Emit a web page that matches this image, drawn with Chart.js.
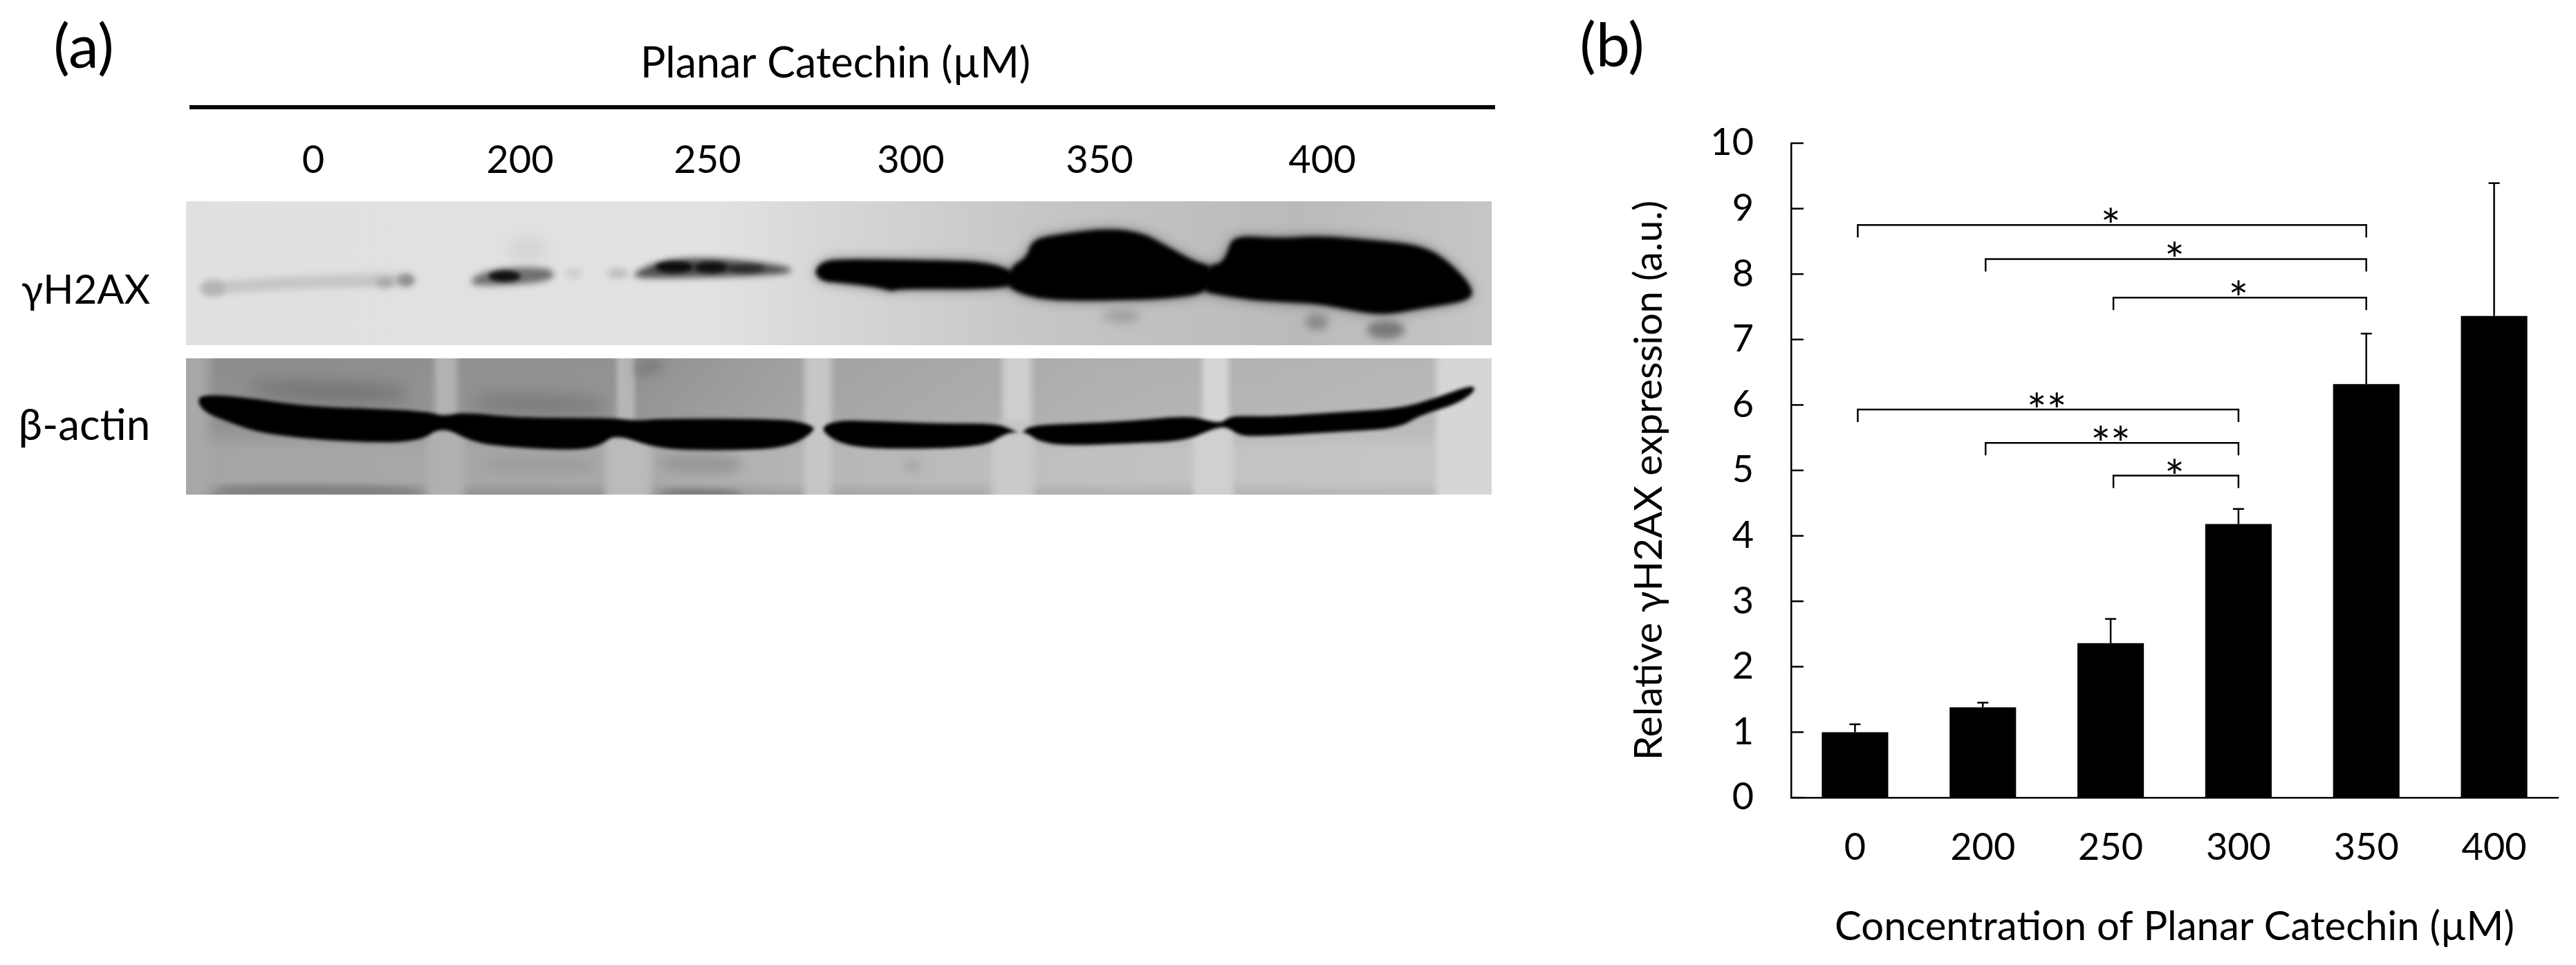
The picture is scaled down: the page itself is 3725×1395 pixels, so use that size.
<!DOCTYPE html>
<html>
<head>
<meta charset="utf-8">
<title>Planar Catechin</title>
<script src="https://cdn.jsdelivr.net/npm/chart.js@4"></script>
<style>
  html, body { margin: 0; padding: 0; background: #fff; }
  canvas { display: block; }
</style>
</head>
<body>
<canvas id="chart" width="3725" height="1395" style="width:3725px;height:1395px"></canvas>
<script>
const concentrations = ["0", "200", "250", "300", "350", "400"];
const meanExpression = [1.0, 1.38, 2.36, 4.18, 6.32, 7.36];
const errorTops = [1.12, 1.45, 2.73, 4.41, 7.09, 9.39];

// significance brackets: first lane, last lane, height, stars
const bracketFrom = [0, 1, 2, 0, 1, 2];
const bracketTo = [4, 4, 4, 3, 3, 3];
const bracketHeight = [8.75, 8.23, 7.64, 5.93, 5.42, 4.92];
const bracketStars = ["*", "*", "*", "**", "**", "*"];

const laneLabelCenters = [453, 752, 1023, 1317, 1590, 1912];

const FONT = 'Lato, "Open Sans", sans-serif';

// blot outlines were traced on two crops (1.65 x 3 times the page size),
// the left one starts at page x 260, the right one at 1210, both at y 280
const LEFT = 260, RIGHT = 1210;
const px = (origin, x) => origin + x / 1.65;
const py = (y) => 280 + y / 3;

// closed shape with rounded corners, the blur does the rest
function blob(ctx, origin, pts, color, blur) {
    const p = pts.map((q) => [px(origin, q[0]), py(q[1])]);
    ctx.filter = `blur(${blur}px)`;
    ctx.fillStyle = color;
    ctx.beginPath();
    const last = p[p.length - 1];
    ctx.moveTo((last[0] + p[0][0]) / 2, (last[1] + p[0][1]) / 2);
    p.forEach((q, i) => {
        const n = p[(i + 1) % p.length];
        ctx.quadraticCurveTo(q[0], q[1], (q[0] + n[0]) / 2, (q[1] + n[1]) / 2);
    });
    ctx.closePath();
    ctx.fill();
    ctx.filter = "none";
}

function spot(ctx, origin, x, y, rx, ry, color, blur) {
    ctx.filter = `blur(${blur}px)`;
    ctx.fillStyle = color;
    ctx.beginPath();
    ctx.ellipse(px(origin, x), py(y), rx / 1.65, ry / 3, 0, 0, Math.PI * 2);
    ctx.fill();
    ctx.filter = "none";
}

// straight pale strip between two lanes
function strip(ctx, origin, x0, x1, y0, y1, color, blur) {
    ctx.filter = `blur(${blur}px)`;
    ctx.fillStyle = color;
    ctx.fillRect(px(origin, x0), py(y0), (x1 - x0) / 1.65, (y1 - y0) / 3);
    ctx.filter = "none";
}

function drawGammaBlot(ctx) {
    const x = 269, y = 291, w = 1888, h = 208;
    ctx.save();
    ctx.beginPath();
    ctx.rect(x, y, w, h);
    ctx.clip();
    const bg = ctx.createLinearGradient(x, 0, x + w, 0);
    bg.addColorStop(0, "#e0e0e0");
    bg.addColorStop(0.4, "#e2e2e2");
    bg.addColorStop(0.5, "#d6d6d6");
    bg.addColorStop(0.65, "#c6c6c6");
    bg.addColorStop(0.85, "#bababa");
    bg.addColorStop(1, "#c6c6c6");
    ctx.fillStyle = bg;
    ctx.fillRect(x, y, w, h);

    // lane 0
    blob(ctx, LEFT, [[50, 385], [300, 355], [560, 340], [560, 405], [300, 410], [50, 440]], "#c6c6c6", 5);
    spot(ctx, LEFT, 80, 410, 30, 35, "#b4b4b4", 5);
    spot(ctx, LEFT, 540, 375, 20, 28, "#8e8e8e", 4);
    spot(ctx, LEFT, 490, 385, 22, 22, "#aaaaaa", 4);
    // lane 200
    spot(ctx, LEFT, 830, 240, 50, 50, "#d4d4d4", 10);
    blob(ctx, LEFT, [[680, 395], [730, 325], [890, 315], [895, 380], [760, 400]], "#707070", 5);
    spot(ctx, LEFT, 775, 358, 38, 24, "#111", 3);
    // lane 250
    spot(ctx, LEFT, 940, 345, 20, 20, "#cccccc", 5);
    spot(ctx, LEFT, 1045, 345, 25, 22, "#bdbdbd", 5);
    blob(ctx, LEFT, [[1075, 350], [1150, 285], [1280, 275], [1460, 315], [1460, 350], [1280, 362], [1100, 368]], "#505050", 5);
    spot(ctx, LEFT, 1180, 318, 45, 24, "#0c0c0c", 3);
    spot(ctx, LEFT, 1268, 320, 40, 24, "#111", 3);
    spot(ctx, LEFT, 1350, 325, 45, 16, "#2a2a2a", 3);

    const lane300 = [[-55, 340], [-35, 295], [0, 285], [100, 285], [250, 290], [340, 295], [400, 318], [425, 350], [425, 400], [350, 415], [150, 412], [130, 425], [100, 405], [0, 385], [-35, 380]];
    const lane350 = [[415, 315], [455, 275], [465, 200], [530, 175], [650, 150], [730, 170], [785, 225], [860, 300], [895, 310], [895, 425], [800, 455], [620, 465], [500, 460], [440, 435], [405, 400]];
    const lane400 = [[885, 310], [915, 305], [932, 260], [945, 180], [1060, 195], [1150, 182], [1300, 205], [1395, 225], [1455, 285], [1520, 410], [1510, 465], [1400, 495], [1300, 530], [1200, 495], [1140, 475], [1000, 465], [900, 435], [875, 425]];
    [lane300, lane350, lane400].forEach((lane) => {
        blob(ctx, RIGHT, lane, "rgba(0,0,0,0.45)", 9);
        blob(ctx, RIGHT, lane, "#000", 3);
    });

    // specks under the bands
    spot(ctx, RIGHT, 680, 530, 45, 30, "#a0a0a0", 7);
    spot(ctx, RIGHT, 1145, 555, 28, 38, "#8c8c8c", 6);
    spot(ctx, RIGHT, 1310, 590, 45, 40, "#787878", 6);
    ctx.restore();
}

function drawActinBlot(ctx) {
    const x = 269, y = 518, w = 1888, h = 197;
    ctx.save();
    ctx.beginPath();
    ctx.rect(x, y, w, h);
    ctx.clip();
    const bg = ctx.createLinearGradient(x, 0, x + w, 0);
    bg.addColorStop(0, "#8c8c8c");
    bg.addColorStop(0.35, "#929292");
    bg.addColorStop(0.48, "#a2a2a2");
    bg.addColorStop(0.7, "#afafaf");
    bg.addColorStop(0.93, "#b6b6b6");
    ctx.fillStyle = bg;
    ctx.fillRect(x, y, w, h);
    // the part below the band is paler
    const lower = ctx.createLinearGradient(0, y, 0, y + h);
    lower.addColorStop(0, "rgba(255,255,255,0)");
    lower.addColorStop(0.5, "rgba(255,255,255,0.05)");
    lower.addColorStop(0.68, "rgba(255,255,255,0.22)");
    lower.addColorStop(0.9, "rgba(255,255,255,0.22)");
    lower.addColorStop(1, "rgba(255,255,255,0.02)");
    ctx.fillStyle = lower;
    ctx.fillRect(x, y, w, h);

    // pale edge and gaps between the lanes
    strip(ctx, LEFT, 0, 70, 680, 1340, "#a8a8a8", 8);
    strip(ctx, LEFT, 608, 662, 680, 1000, "#b2b2b2", 4);
    strip(ctx, LEFT, 590, 680, 1000, 1340, "#b0b0b0", 6);
    strip(ctx, LEFT, 1042, 1085, 680, 1000, "#b6b6b6", 3);
    strip(ctx, LEFT, 1015, 1125, 1000, 1340, "#bbbbbb", 6);
    strip(ctx, LEFT, 1490, 1555, 680, 1340, "#c6c6c6", 5);
    strip(ctx, RIGHT, 395, 465, 680, 1000, "#cecece", 5);
    strip(ctx, RIGHT, 370, 470, 1000, 1340, "#cacaca", 6);
    strip(ctx, RIGHT, 872, 935, 680, 1000, "#d6d6d6", 4);
    strip(ctx, RIGHT, 850, 945, 1000, 1340, "#d0d0d0", 5);
    strip(ctx, RIGHT, 1430, 1600, 680, 1340, "#d6d6d6", 5);
    // smudges
    blob(ctx, LEFT, [[150, 810], [540, 830], [550, 900], [320, 900], [170, 860]], "#707070", 12);
    blob(ctx, LEFT, [[690, 860], [1020, 880], [1020, 960], [700, 950]], "#7a7a7a", 12);
    blob(ctx, LEFT, [[1080, 720], [1170, 720], [1140, 780], [1090, 800]], "#7c7c7c", 8);
    blob(ctx, LEFT, [[700, 1140], [1000, 1140], [990, 1210], [720, 1200]], "#9a9a9a", 10);
    blob(ctx, LEFT, [[1140, 1130], [1340, 1130], [1340, 1220], [1150, 1210]], "#979797", 8);
    blob(ctx, LEFT, [[90, 1262], [570, 1270], [570, 1310], [90, 1310]], "#7e7e7e", 5);
    blob(ctx, LEFT, [[1150, 1280], [1340, 1285], [1340, 1310], [1150, 1310]], "#757575", 4);
    spot(ctx, RIGHT, 180, 1180, 22, 35, "#ababab", 6);

    // actin band, split where the two crops meet
    const bandLeft = [[40, 885], [70, 872], [150, 882], [300, 922], [520, 937], [600, 948], [625, 965], [680, 947], [800, 972], [1030, 972], [1090, 985], [1150, 975], [1440, 977], [1500, 998], [1520, 1025],
        [1450, 1103], [1300, 1114], [1140, 1108], [1040, 1040], [1000, 1098], [930, 1113], [780, 1098], [700, 1078], [625, 1008], [570, 1078], [400, 1078], [200, 1043], [120, 993], [55, 945]];
    const bandRight = [[-45, 1020], [0, 982], [100, 987], [250, 997], [380, 997], [415, 1020], [440, 1042], [460, 1005], [560, 997], [700, 987], [840, 962], [895, 990], [920, 992], [940, 962], [1040, 967], [1200, 947], [1340, 932], [1430, 887], [1515, 828], [1525, 855], [1480, 912], [1390, 962], [1340, 1018],
        [1200, 1033], [1000, 1053], [960, 1048], [930, 1010], [900, 1018], [830, 1073], [700, 1083], [540, 1093], [480, 1073], [455, 1038], [430, 1032], [400, 1043], [350, 1098], [160, 1108], [20, 1098]];
    blob(ctx, LEFT, bandLeft, "#000", 2.5);
    blob(ctx, RIGHT, bandRight, "#000", 2.5);
    ctx.restore();
}

const panelA = {
    id: "panelA",
    beforeDraw(chart) {
        const ctx = chart.ctx;
        ctx.save();
        ctx.fillStyle = "#fff";
        ctx.fillRect(0, 0, chart.width, chart.height);
        drawGammaBlot(ctx);
        drawActinBlot(ctx);

        ctx.fillStyle = "#000";
        ctx.fillRect(274, 152, 1888, 6);

        ctx.textAlign = "center";
        ctx.textBaseline = "middle";
        ctx.fillStyle = "#000";
        ctx.font = `88px ${FONT}`;
        ctx.fillText("(a)", 121, 70);
        ctx.fillText("(b)", 2331, 68);
        ctx.font = `61px ${FONT}`;
        ctx.fillText("Planar Catechin (µM)", 1208, 92);
        ctx.font = `56px ${FONT}`;
        concentrations.forEach((c, i) => ctx.fillText(c, laneLabelCenters[i], 232));
        ctx.font = `58px ${FONT}`;
        ctx.fillText("γH2AX", 124, 420);
        ctx.font = `62px ${FONT}`;
        ctx.fillText("β-actin", 122, 616);
        ctx.restore();
    },
};

const annotations = {
    id: "annotations",
    afterDatasetsDraw(chart) {
        const ctx = chart.ctx;
        const x = chart.scales.x;
        const y = chart.scales.y;
        ctx.save();
        ctx.strokeStyle = "#000";

        // error bars
        ctx.lineWidth = 2.5;
        errorTops.forEach((top, i) => {
            const bx = x.getPixelForValue(i);
            ctx.beginPath();
            ctx.moveTo(bx, y.getPixelForValue(meanExpression[i]));
            ctx.lineTo(bx, y.getPixelForValue(top));
            ctx.moveTo(bx - 8, y.getPixelForValue(top));
            ctx.lineTo(bx + 8, y.getPixelForValue(top));
            ctx.stroke();
        });

        // inward ticks on the value axis
        y.ticks.forEach((t) => {
            const ty = y.getPixelForValue(t.value);
            ctx.beginPath();
            ctx.moveTo(chart.chartArea.left, ty);
            ctx.lineTo(chart.chartArea.left + 18, ty);
            ctx.stroke();
        });

        // significance brackets
        ctx.fillStyle = "#000";
        ctx.font = `68px ${FONT}`;
        ctx.textAlign = "center";
        ctx.textBaseline = "middle";
        bracketHeight.forEach((h, i) => {
            const a = x.getPixelForValue(bracketFrom[i]) + 4;
            const b = x.getPixelForValue(bracketTo[i]);
            const ly = y.getPixelForValue(h);
            ctx.beginPath();
            ctx.moveTo(a, ly + 18);
            ctx.lineTo(a, ly);
            ctx.lineTo(b, ly);
            ctx.lineTo(b, ly + 18);
            ctx.stroke();
            const mid = (bracketFrom[i] + bracketTo[i]) / 2;
            ctx.fillText(bracketStars[i], x.getPixelForValue(mid), ly + 4);
        });
        ctx.restore();
    },
};

new Chart(document.getElementById("chart"), {
    type: "bar",
    data: {
        labels: concentrations,
        datasets: [{ data: meanExpression, backgroundColor: "#000", barPercentage: 0.52, categoryPercentage: 1 }],
    },
    options: {
        responsive: false,
        animation: false,
        devicePixelRatio: 1,
        layout: { padding: { left: 2350, top: 207, right: 26, bottom: 20 } },
        plugins: { legend: { display: false }, tooltip: { enabled: false } },
        scales: {
            x: {
                grid: { display: false },
                border: { color: "#000", width: 2.5 },
                ticks: { color: "#000", font: { family: FONT, size: 54 }, padding: 32, maxRotation: 0, autoSkip: false },
                title: { display: true, text: "Concentration of Planar Catechin (µM)", color: "#000", font: { family: FONT, size: 58 }, padding: 0 },
                afterFit(scale) {
                    scale.height = 222;
                    scale.paddingLeft = 0;
                    scale.paddingRight = 0;
                },
            },
            y: {
                min: 0,
                max: 10,
                grid: { display: false },
                border: { color: "#000", width: 2.5 },
                ticks: { color: "#000", font: { family: FONT, size: 54 }, stepSize: 1, padding: 46 },
                // trailing spaces push the centred title down a little, as in the figure
                title: { display: true, text: "Relative γH2AX expression (a.u.)  ", color: "#000", font: { family: FONT, size: 57 }, padding: 0 },
                afterFit(scale) {
                    scale.width = 240;
                    scale.paddingTop = 0;
                    scale.paddingBottom = 0;
                },
            },
        },
    },
    plugins: [panelA, annotations],
});
</script>
</body>
</html>
